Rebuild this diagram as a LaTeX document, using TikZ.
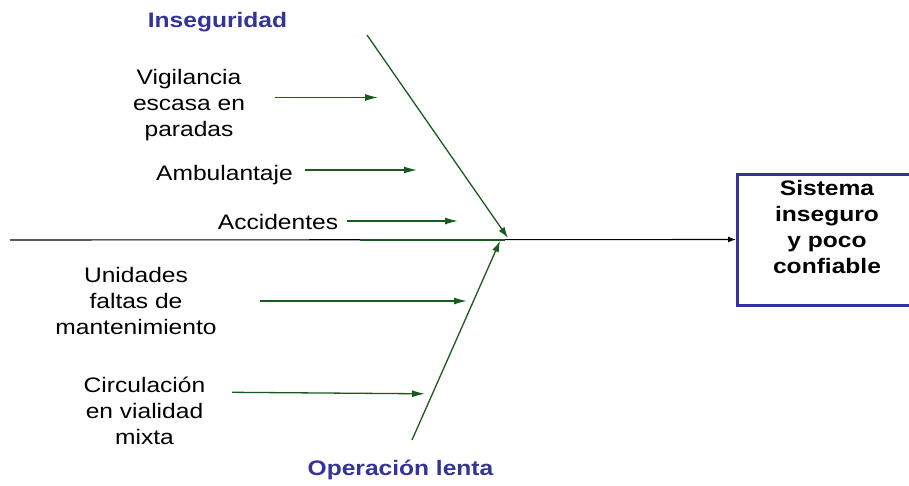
\documentclass[tikz,border=0pt]{standalone}
\usepackage{fontspec}
\setmainfont{Liberation Sans}
\usetikzlibrary{arrows.meta}
\definecolor{titleblue}{RGB}{51,51,153}
\definecolor{bonegreen}{RGB}{25,90,30}
\newcommand{\stx}[1]{\scalebox{1.17}[1]{\begin{tabular}[t]{@{}c@{}}#1\end{tabular}}}
\tikzset{
  lbl/.style={anchor=base, inner sep=0pt, font=\fontsize{21}{26}\selectfont},
  ttl/.style={lbl, font=\fontsize{21}{26}\selectfont\bfseries, text=titleblue},
  minor/.style={draw=bonegreen, line width=1.3pt, -{Latex[length=13pt,width=7pt]}},
  bone/.style={draw=bonegreen, line width=1.3pt, -{Latex[length=11pt,width=7pt]}},
  effbox/.style={draw=titleblue, line width=3pt, minimum width=177.5pt, minimum height=131pt, inner sep=0pt}
}
\begin{document}
\begin{tikzpicture}[x=1pt,y=-1pt]
\clip (0,0) rectangle (909,485);
\fill[white] (0,0) rectangle (909,485);
% effect box
\node[effbox] (efecto) at (826.25,239.5) {};
\node[lbl, font=\fontsize{21}{26}\selectfont\bfseries] (efectotxt) at (827,195) {\stx{Sistema\\inseguro\\y poco\\confiable}};
% spine
\coordinate (spine0) at (10,240);
\coordinate (spinemid) at (360,240);
\coordinate (spinejoin) at (505,240);
\draw[line width=1.1pt, -{Latex[length=8pt,width=6pt]}] (spine0) -- (efecto.west);
\draw[draw=bonegreen, line width=1.1pt] (spinemid) -- (spinejoin);
% bones
\coordinate (ub0) at (367,35);
\coordinate (ub1) at (508,238);
\coordinate (lb0) at (412,440);
\coordinate (lb1) at (500,241);
\draw[bone] (ub0) -- (ub1);
\draw[bone] (lb0) -- (lb1);
% titles
\node[ttl] (inseg) at (217.5,27) {\stx{Inseguridad}};
\node[ttl] (oper) at (400.5,475) {\stx{Operación lenta}};
% causes
\node[lbl] (vig) at (189,84) {\stx{Vigilancia\\escasa en\\paradas}};
\node[lbl] (amb) at (224.5,180) {\stx{Ambulantaje}};
\node[lbl] (acc) at (278,229.5) {\stx{Accidentes}};
\node[lbl] (uni) at (136,282) {\stx{Unidades\\faltas de\\mantenimiento}};
\node[lbl] (cir) at (144.5,392) {\stx{Circulación\\en vialidad\\mixta}};
% cause arrows
\coordinate (vig0) at (275,97.5);  \coordinate (vig1) at (378,97.5);
\coordinate (amb0) at (305,170);   \coordinate (amb1) at (417,170);
\coordinate (acc0) at (347,221);   \coordinate (acc1) at (458,221);
\coordinate (uni0) at (260,301);   \coordinate (uni1) at (467,301);
\coordinate (cir0) at (232,392.3); \coordinate (cir1) at (425,393.8);
\draw[minor] (vig0) -- (vig1);
\draw[minor] (amb0) -- (amb1);
\draw[minor] (acc0) -- (acc1);
\draw[minor] (uni0) -- (uni1);
\draw[minor] (cir0) -- (cir1);
\end{tikzpicture}
\end{document}
